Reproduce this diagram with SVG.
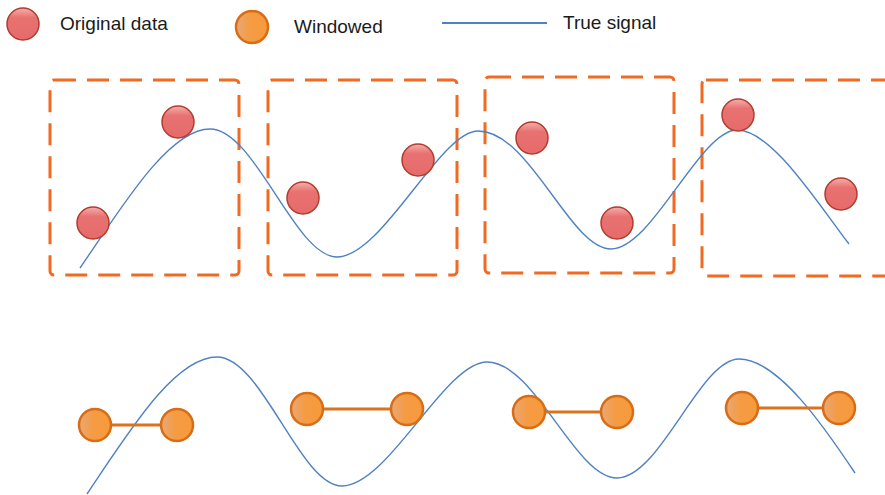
<svg xmlns="http://www.w3.org/2000/svg" width="885" height="495" viewBox="0 0 885 495">
<defs>
<linearGradient id="redG" x1="0" y1="0" x2="0" y2="1">
<stop offset="0" stop-color="#f4b0ae"/>
<stop offset="0.3" stop-color="#e87271"/>
<stop offset="1" stop-color="#e66b6b"/>
</linearGradient>
<linearGradient id="orG" x1="0" y1="0" x2="1" y2="0">
<stop offset="0" stop-color="#e8a877"/>
<stop offset="0.45" stop-color="#f59b42"/>
<stop offset="1" stop-color="#f79a3c"/>
</linearGradient>
</defs>
<style>
text{font-family:"Liberation Sans",Arial,sans-serif;font-size:19px;fill:#1a1a1a}
.red{fill:url(#redG);stroke:#b13b2c;stroke-width:1.5}
.org{fill:url(#orG);stroke:#d96d16;stroke-width:2.5}
.win{fill:none;stroke:#f26a21;stroke-width:3;stroke-dasharray:22 11}
.sig{fill:none;stroke:#4f82c2;stroke-width:1.4}
.link{stroke:#d9731f;stroke-width:3}
</style>
<rect width="885" height="495" fill="#ffffff"/>
<g id="legend">
<circle class="red" cx="23" cy="24" r="16"/>
<text x="60" y="30">Original data</text>
<circle class="org" cx="252" cy="27" r="16"/>
<text x="294" y="33">Windowed</text>
<line x1="442" y1="23" x2="547" y2="23" stroke="#4f82c2" stroke-width="2"/>
<text x="563" y="29">True signal</text>
</g>
<g id="windows">
<rect id="window1" class="win" x="50" y="80" width="189" height="195" rx="4"/>
<rect id="window2" class="win" x="268" y="80" width="189" height="195" rx="4"/>
<rect id="window3" class="win" x="485" y="77" width="189" height="196" rx="4"/>
<rect id="window4" class="win" x="702" y="80" width="200" height="196" rx="4"/>
</g>
<g id="connectors">
<path id="signal-top" class="sig" d="M80,268 C120,210 168,129 210,129 C255,129 295,257 337,257 C382,257 440,131 478,131 C530,131 570,249 611,249 C652,249 700,130 737,130 C772,130 818,204 849,244"/>
<path id="signal-bottom" class="sig" d="M87,494 C130,430 175,357 217,357 C262,357 300,486 342,486 C388,486 445,362 487,362 C535,362 575,478 617,478 C660,478 700,359 739,359 C778,359 825,428 855,473"/>
<line class="link" x1="95" y1="425" x2="177" y2="425"/>
<line class="link" x1="307" y1="409" x2="407" y2="409"/>
<line class="link" x1="529" y1="412" x2="617" y2="412"/>
<line class="link" x1="742" y1="408" x2="839" y2="408"/>
</g>
<g id="original-data">
<circle class="red" cx="93" cy="223" r="16"/>
<circle class="red" cx="178" cy="122" r="16"/>
<circle class="red" cx="303" cy="198" r="16"/>
<circle class="red" cx="418" cy="160" r="16"/>
<circle class="red" cx="532" cy="138" r="16"/>
<circle class="red" cx="617" cy="223" r="16"/>
<circle class="red" cx="738" cy="115" r="16"/>
<circle class="red" cx="841" cy="194" r="16"/>
</g>
<g id="windowed">
<circle class="org" cx="95" cy="425" r="16"/>
<circle class="org" cx="177" cy="425" r="16"/>
<circle class="org" cx="307" cy="409" r="16"/>
<circle class="org" cx="407" cy="409" r="16"/>
<circle class="org" cx="529" cy="412" r="16"/>
<circle class="org" cx="617" cy="412" r="16"/>
<circle class="org" cx="742" cy="408" r="16"/>
<circle class="org" cx="839" cy="408" r="16"/>
</g>
</svg>
